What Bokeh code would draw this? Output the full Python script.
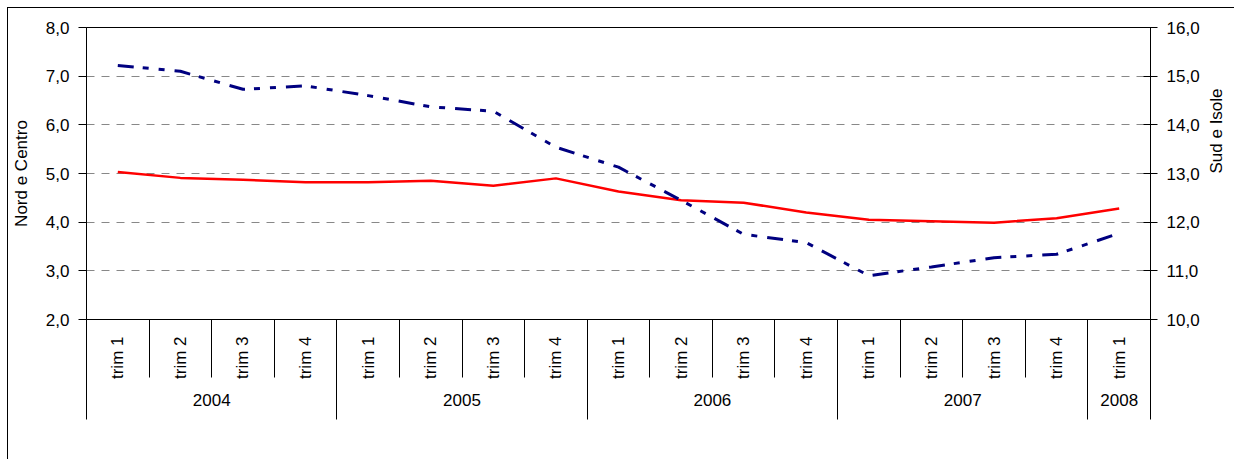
import math
from bokeh.plotting import figure
from bokeh.models import (Range1d, LinearAxis, FixedTicker, CustomJSTickFormatter,
                          Legend, LegendItem, Grid)
from bokeh.embed import file_html
from bokeh.resources import INLINE

# ---- data ----
years = ["2004", "2005", "2006", "2007", "2008"]
quarters_per_year = [4, 4, 4, 4, 1]
quarters = ["trim 1", "trim 2", "trim 3", "trim 4",
            "trim 1", "trim 2", "trim 3", "trim 4",
            "trim 1", "trim 2", "trim 3", "trim 4",
            "trim 1", "trim 2", "trim 3", "trim 4",
            "trim 1"]
nord_centro = [5.03, 4.91, 4.87, 4.82, 4.82, 4.85, 4.75, 4.90,
               4.63, 4.45, 4.40, 4.20, 4.05, 4.02, 3.99, 4.08, 4.28]
sud_isole = [15.22, 15.10, 14.73, 14.80, 14.60, 14.37, 14.28, 13.54,
             13.13, 12.45, 11.75, 11.58, 10.90, 11.08, 11.27, 11.34, 11.77]
left_ticks = [2, 3, 4, 5, 6, 7, 8]
right_ticks = [10, 11, 12, 13, 14, 15, 16]
left_label = "Nord e Centro"
right_label = "Sud e Isole"

FONT = "Liberation Sans"
FS = "17px"

n = len(quarters)
xs = [i + 0.5 for i in range(n)]
bounds = [0]
for q in quarters_per_year:
    bounds.append(bounds[-1] + q)
year_centers = [(bounds[i] + bounds[i + 1]) / 2 for i in range(len(years))]

p = figure(frame_width=1064, frame_height=292,
           x_range=Range1d(0, n), y_range=Range1d(left_ticks[0], left_ticks[-1]),
           output_backend="svg", toolbar_location=None, title=None,
           x_axis_location=None, y_axis_location=None,
           min_border_left=78, min_border_top=19, min_border_right=10, min_border_bottom=0)
p.xgrid.visible = False
p.ygrid.visible = False
p.extra_y_ranges = {"right": Range1d(right_ticks[0], right_ticks[-1])}
p.outline_line_color = "black"
p.outline_line_width = 1
p.background_fill_color = "white"
p.border_fill_color = "white"
p.styles = {"margin-left": "7px", "margin-top": "7px",
            "border-left": "1px solid black", "border-top": "1px solid black"}

fmt = CustomJSTickFormatter(code="return tick.toFixed(1).replace('.', ',');")

def style_axis(ax):
    ax.major_label_text_font = FONT
    ax.major_label_text_font_size = FS
    ax.major_label_text_color = "black"
    ax.axis_label_text_font = FONT
    ax.axis_label_text_font_size = FS
    ax.axis_label_text_font_style = "normal"
    ax.axis_label_text_color = "black"
    ax.axis_line_color = "black"
    ax.major_tick_line_color = "black"
    ax.minor_tick_line_color = "black"

yl = LinearAxis(ticker=FixedTicker(ticks=left_ticks), formatter=fmt, axis_label=left_label)
style_axis(yl)
yl.major_tick_out = 8
yl.major_tick_in = 0
yl.minor_tick_out = 0
yl.minor_tick_in = 0
yl.major_label_standoff = 9
yl.axis_label_standoff = 12
p.add_layout(yl, "left")

yr = LinearAxis(y_range_name="right", ticker=FixedTicker(ticks=right_ticks), formatter=fmt,
                axis_label=right_label)
style_axis(yr)
yr.major_tick_out = 7
yr.major_tick_in = 7
yr.minor_tick_out = 0
yr.minor_tick_in = 0
yr.major_label_standoff = 9
yr.axis_label_standoff = 14
yr.axis_label_orientation = math.pi / 2
p.add_layout(yr, "right")

grid = Grid(dimension=1, ticker=FixedTicker(ticks=left_ticks[1:-1]),
            grid_line_color="#888888", grid_line_dash="8 7", grid_line_width=1)
p.add_layout(grid, "center")

xa1 = LinearAxis(ticker=FixedTicker(ticks=xs, minor_ticks=list(range(n + 1))),
                 major_label_overrides={x: q for x, q in zip(xs, quarters)})
style_axis(xa1)
xa1.major_label_orientation = math.pi / 2
xa1.major_tick_out = 0
xa1.major_tick_in = 0
xa1.minor_tick_out = 58
xa1.minor_tick_in = 0
xa1.major_label_standoff = -41
p.add_layout(xa1, "below")

xa2 = LinearAxis(ticker=FixedTicker(ticks=year_centers, minor_ticks=bounds),
                 major_label_overrides={c: y for c, y in zip(year_centers, years)})
style_axis(xa2)
xa2.axis_line_color = None
xa2.major_tick_out = 0
xa2.major_tick_in = 0
xa2.minor_tick_out = 37
xa2.minor_tick_in = 8
xa2.major_label_standoff = -26
p.add_layout(xa2, "below")

r1 = p.line(xs, nord_centro, line_color="#FF0000", line_width=2.5)
r2 = p.line(xs, sud_isole, line_color="#000080", line_width=3,
            line_dash="16 9 6 10 6 10", y_range_name="right")

legend = Legend(items=[LegendItem(label="Nord e Centro", renderers=[r1]),
                       LegendItem(label="Sud e Isole", renderers=[r2])],
                orientation="horizontal", location=(301, 55),
                border_line_color="black", border_line_width=1,
                glyph_width=80, glyph_height=16, label_height=16, label_standoff=5, spacing=30,
                padding=5, margin=0, label_text_font=FONT, label_text_font_size="17.5px",
                background_fill_alpha=1)
p.add_layout(legend, "below")

open("out.html", "w").write(file_html(p, INLINE))
